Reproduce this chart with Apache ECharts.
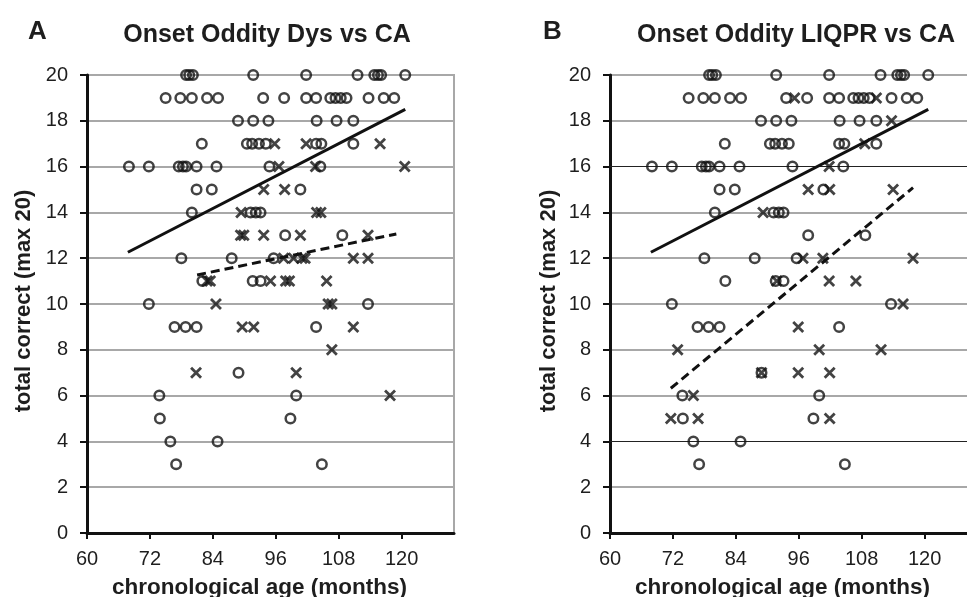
<!DOCTYPE html>
<html>
<head>
<meta charset="utf-8">
<script src="https://cdn.jsdelivr.net/npm/echarts@6/dist/echarts.min.js"></script>
<style>html,body{margin:0;padding:0;background:#fff;}#c{width:967px;height:597px;}</style>
</head>
<body>
<div id="c"></div>
<script>
// ---- data ----
const xTicks = [60, 72, 84, 96, 108, 120];

// CA group (circles) - shared by both panels
const caAge = [
  78.9, 79.5, 80.2, 91.7, 101.8, 111.6, 114.8, 115.5, 116.1, 120.7,
  75.0, 77.8, 80.0, 82.9, 85.0, 93.6, 97.6, 101.8, 103.7, 106.4, 107.4, 108.4, 109.5, 113.7, 116.6, 118.6,
  88.8, 91.7, 94.6, 103.8, 107.6, 110.8,
  81.9, 90.5, 91.5, 92.8, 94.1, 103.7, 104.7, 110.8,
  68.0, 71.8, 77.5, 78.3, 78.9, 80.9, 84.7, 94.8, 104.5,
  80.9, 83.8, 100.7,
  80.0, 91.2, 92.2, 93.1,
  97.8, 108.7,
  78.0, 87.6, 95.6,
  82.0, 91.6, 93.1,
  71.8, 113.6,
  76.7, 78.8, 80.9, 103.7,
  88.9,
  73.8, 99.9,
  73.9, 98.8,
  75.9, 84.9,
  77.0, 104.8
];
const caScore = [
  20, 20, 20, 20, 20, 20, 20, 20, 20, 20,
  19, 19, 19, 19, 19, 19, 19, 19, 19, 19, 19, 19, 19, 19, 19, 19,
  18, 18, 18, 18, 18, 18,
  17, 17, 17, 17, 17, 17, 17, 17,
  16, 16, 16, 16, 16, 16, 16, 16, 16,
  15, 15, 15,
  14, 14, 14, 14,
  13, 13,
  12, 12, 12,
  11, 11, 11,
  10, 10,
  9, 9, 9, 9,
  7,
  6, 6,
  5, 5,
  4, 4,
  3, 3
];

// Dys group (crosses, panel A)
const dysAge = [
  95.8, 101.8, 115.9,
  96.6, 103.6, 120.6,
  93.7, 97.7,
  89.4, 103.8, 104.6,
  89.3, 89.9, 93.7, 100.7, 113.6,
  97.5, 99.4, 101.0, 101.6, 110.8, 113.6,
  82.9, 83.5, 95.0, 97.9, 98.6, 105.7,
  84.6, 106.0, 106.7,
  89.6, 91.8, 110.8,
  106.7,
  80.8, 99.9,
  117.8
];
const dysScore = [
  17, 17, 17,
  16, 16, 16,
  15, 15,
  14, 14, 14,
  13, 13, 13, 13, 13,
  12, 12, 12, 12, 12, 12,
  11, 11, 11, 11, 11, 11,
  10, 10, 10,
  9, 9, 9,
  8,
  7, 7,
  6
];

// LIQPR group (crosses, panel B)
const liqAge = [
  95.2, 110.8,
  113.7,
  108.6,
  101.8,
  97.8, 101.9, 114.0,
  89.2,
  96.8, 100.6, 117.8,
  91.8, 101.8, 106.9,
  115.9,
  95.9,
  72.9, 99.9, 111.7,
  88.9, 95.9, 101.9,
  75.9,
  71.6, 76.8, 101.9
];
const liqScore = [
  19, 19,
  18,
  17,
  16,
  15, 15, 15,
  14,
  12, 12, 12,
  11, 11, 11,
  10,
  9,
  8, 8, 8,
  7, 7, 7,
  6,
  5, 5, 5
];

// regression lines (end points)
const caFitAge = [67.8, 120.7];
const caFitScore = [12.26, 18.5];
const dysFitAge = [81.0, 119.0];
const dysFitScore = [11.27, 13.06];
const liqFitAge = [71.6, 117.8];
const liqFitScore = [6.32, 15.08];

const titles = ['Onset Oddity Dys vs CA', 'Onset Oddity LIQPR vs CA'];
const panelLetters = ['A', 'B'];
const xName = 'chronological age (months)';
const yName = 'total correct (max 20)';

// ---- build ----
const zip = (a, b) => a.map((v, i) => [v, b[i]]);
const FONT = "'Liberation Sans', Arial, Helvetica, sans-serif";
const INK = '#1e1e1e';
const CROSS = 'path://M0,0L10,10M10,0L0,10';

function xAxis(i) {
  return {
    gridIndex: i, type: 'value', min: 60, max: 130, interval: 12,
    axisLine: { show: true, onZero: false, lineStyle: { color: '#111', width: 3 } },
    axisTick: { show: true, length: 6, customValues: xTicks, lineStyle: { color: '#111', width: 2 } },
    axisLabel: { customValues: xTicks, margin: 16, fontSize: 20, color: INK, fontFamily: FONT },
    splitLine: { show: false },
    name: xName, nameLocation: 'middle', nameGap: 43,
    nameTextStyle: { fontSize: 22.5, fontWeight: 'bold', color: INK, fontFamily: FONT, padding: [0, 22, 0, 0] }
  };
}
function yAxis(i, colors, gap) {
  return {
    gridIndex: i, type: 'value', min: 0, max: 20, interval: 2,
    axisLine: { show: true, onZero: false, lineStyle: { color: '#111', width: 3 } },
    axisTick: { show: true, length: 7, lineStyle: { color: '#111', width: 2 } },
    axisLabel: { margin: 19, fontSize: 20, color: INK, fontFamily: FONT },
    splitLine: { show: true, lineStyle: { color: colors, width: 2 } },
    name: yName, nameLocation: 'middle', nameGap: gap, nameRotate: 90,
    nameTextStyle: { fontSize: 22, fontWeight: 'bold', color: INK, fontFamily: FONT, padding: [0, 0, 0, 6] }
  };
}
const G = '#a8a8a8';
const T = 'rgba(0,0,0,0)';
const leftColors = [G];
const rightColors = [G, G, T, G, G, G, G, G, T, G, G];

function circles(i) {
  return {
    type: 'scatter', xAxisIndex: i, yAxisIndex: i, symbol: 'circle', symbolSize: 9.5,
    itemStyle: { color: T, borderColor: '#141414', borderWidth: 2.5 },
    data: zip(caAge, caScore), z: 3, silent: true
  };
}
function crosses(i, ages, scores, extra) {
  return Object.assign({
    type: 'scatter', xAxisIndex: i, yAxisIndex: i, symbol: CROSS, symbolSize: 10,
    itemStyle: { color: T, borderColor: '#141414', borderWidth: 2.8 },
    data: zip(ages, scores), z: 3, silent: true
  }, extra || {});
}
function fit(i, ages, scores, dashed) {
  return {
    type: 'line', xAxisIndex: i, yAxisIndex: i, symbol: 'none', silent: true, z: 4,
    lineStyle: { color: '#111', width: 3, type: dashed ? [9, 5] : 'solid', cap: 'butt' },
    data: zip(ages, scores)
  };
}

const chart = echarts.init(document.getElementById('c'), null, { renderer: 'canvas' });
chart.setOption({
  animation: false,
  backgroundColor: '#fff',
  title: [
    { text: panelLetters[0], left: 23, top: 14, textStyle: { fontSize: 26, fontWeight: 'bold', color: INK, fontFamily: FONT } },
    { text: titles[0], left: 262, top: 18, textAlign: 'center', textStyle: { fontSize: 25, fontWeight: 'bold', color: INK, fontFamily: FONT } },
    { text: panelLetters[1], left: 538, top: 14, textStyle: { fontSize: 26, fontWeight: 'bold', color: INK, fontFamily: FONT } },
    { text: titles[1], left: 791, top: 18, textAlign: 'center', textStyle: { fontSize: 25, fontWeight: 'bold', color: INK, fontFamily: FONT } }
  ],
  grid: [
    { left: 87, right: 513, top: 75, bottom: 64, containLabel: false, outerBoundsMode: 'none', show: true, borderColor: G, borderWidth: 2, backgroundColor: T },
    { left: 610, right: -10, top: 75, bottom: 64, containLabel: false, outerBoundsMode: 'none', show: true, borderColor: G, borderWidth: 2, backgroundColor: T }
  ],
  xAxis: [xAxis(0), xAxis(1)],
  yAxis: [yAxis(0, leftColors, 52), yAxis(1, rightColors, 50)],
  series: [
    circles(0),
    crosses(0, dysAge, dysScore),
    fit(0, caFitAge, caFitScore, false),
    fit(0, dysFitAge, dysFitScore, true),
    circles(1),
    crosses(1, liqAge, liqScore, {
      markLine: {
        silent: true, symbol: 'none', label: { show: false }, z: 1,
        lineStyle: { color: '#222', width: 1, type: 'solid' },
        data: [{ yAxis: 4 }, { yAxis: 16 }]
      }
    }),
    fit(1, caFitAge, caFitScore, false),
    fit(1, liqFitAge, liqFitScore, true)
  ]
});
</script>
</body>
</html>
